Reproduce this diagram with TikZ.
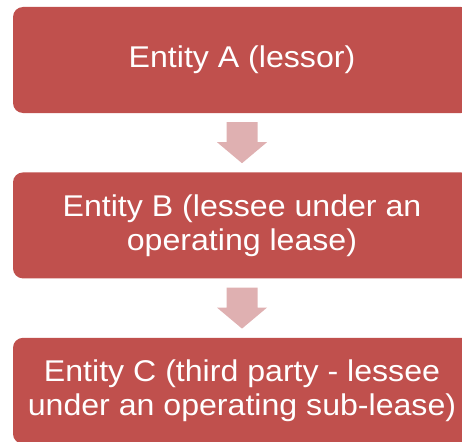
\documentclass[tikz,border=0pt]{standalone}
\usepackage{fontspec}
\setmainfont[FakeStretch=1.07]{Liberation Sans}
\usepackage{tikz}
\usetikzlibrary{positioning,calc}
\definecolor{boxred}{RGB}{192,80,77}
\definecolor{arrowpink}{RGB}{223,176,177}

\begin{document}
\begin{tikzpicture}[x=1pt,y=1pt,node distance=59pt]
  \tikzstyle{entity}=[rectangle,rounded corners=10pt,fill=boxred,text=white,minimum width=458pt,minimum height=106pt,align=center,inner sep=0pt,font=\fontsize{30}{34}\selectfont]
  \tikzstyle{flow}=[fill=arrowpink]
  \useasboundingbox (0,0) rectangle (462,-441);
  \node[entity] (ea) at (242,-60) {Entity A (lessor)};
  \node[entity,below=of ea] (eb) {Entity B (lessee under an\\operating lease)};
  \node[entity,below=of eb] (ec) {Entity C (third party - lessee\\under an operating sub-lease)};
  % block arrows between the entities
  \foreach \from/\to in {ea/eb,eb/ec}{
    \coordinate (t) at ($(\from.south)+(0,-9)$);
    \coordinate (h) at ($(\to.north)+(0,9)$);
    \fill[flow] ($(t)+(-15.5,0)$) -- ($(t)+(15.5,0)$) -- ($(h)+(15.5,21)$) -- ($(h)+(25,21)$)
      -- (h) -- ($(h)+(-25,21)$) -- ($(h)+(-15.5,21)$) -- cycle;
  }
\end{tikzpicture}
\end{document}
